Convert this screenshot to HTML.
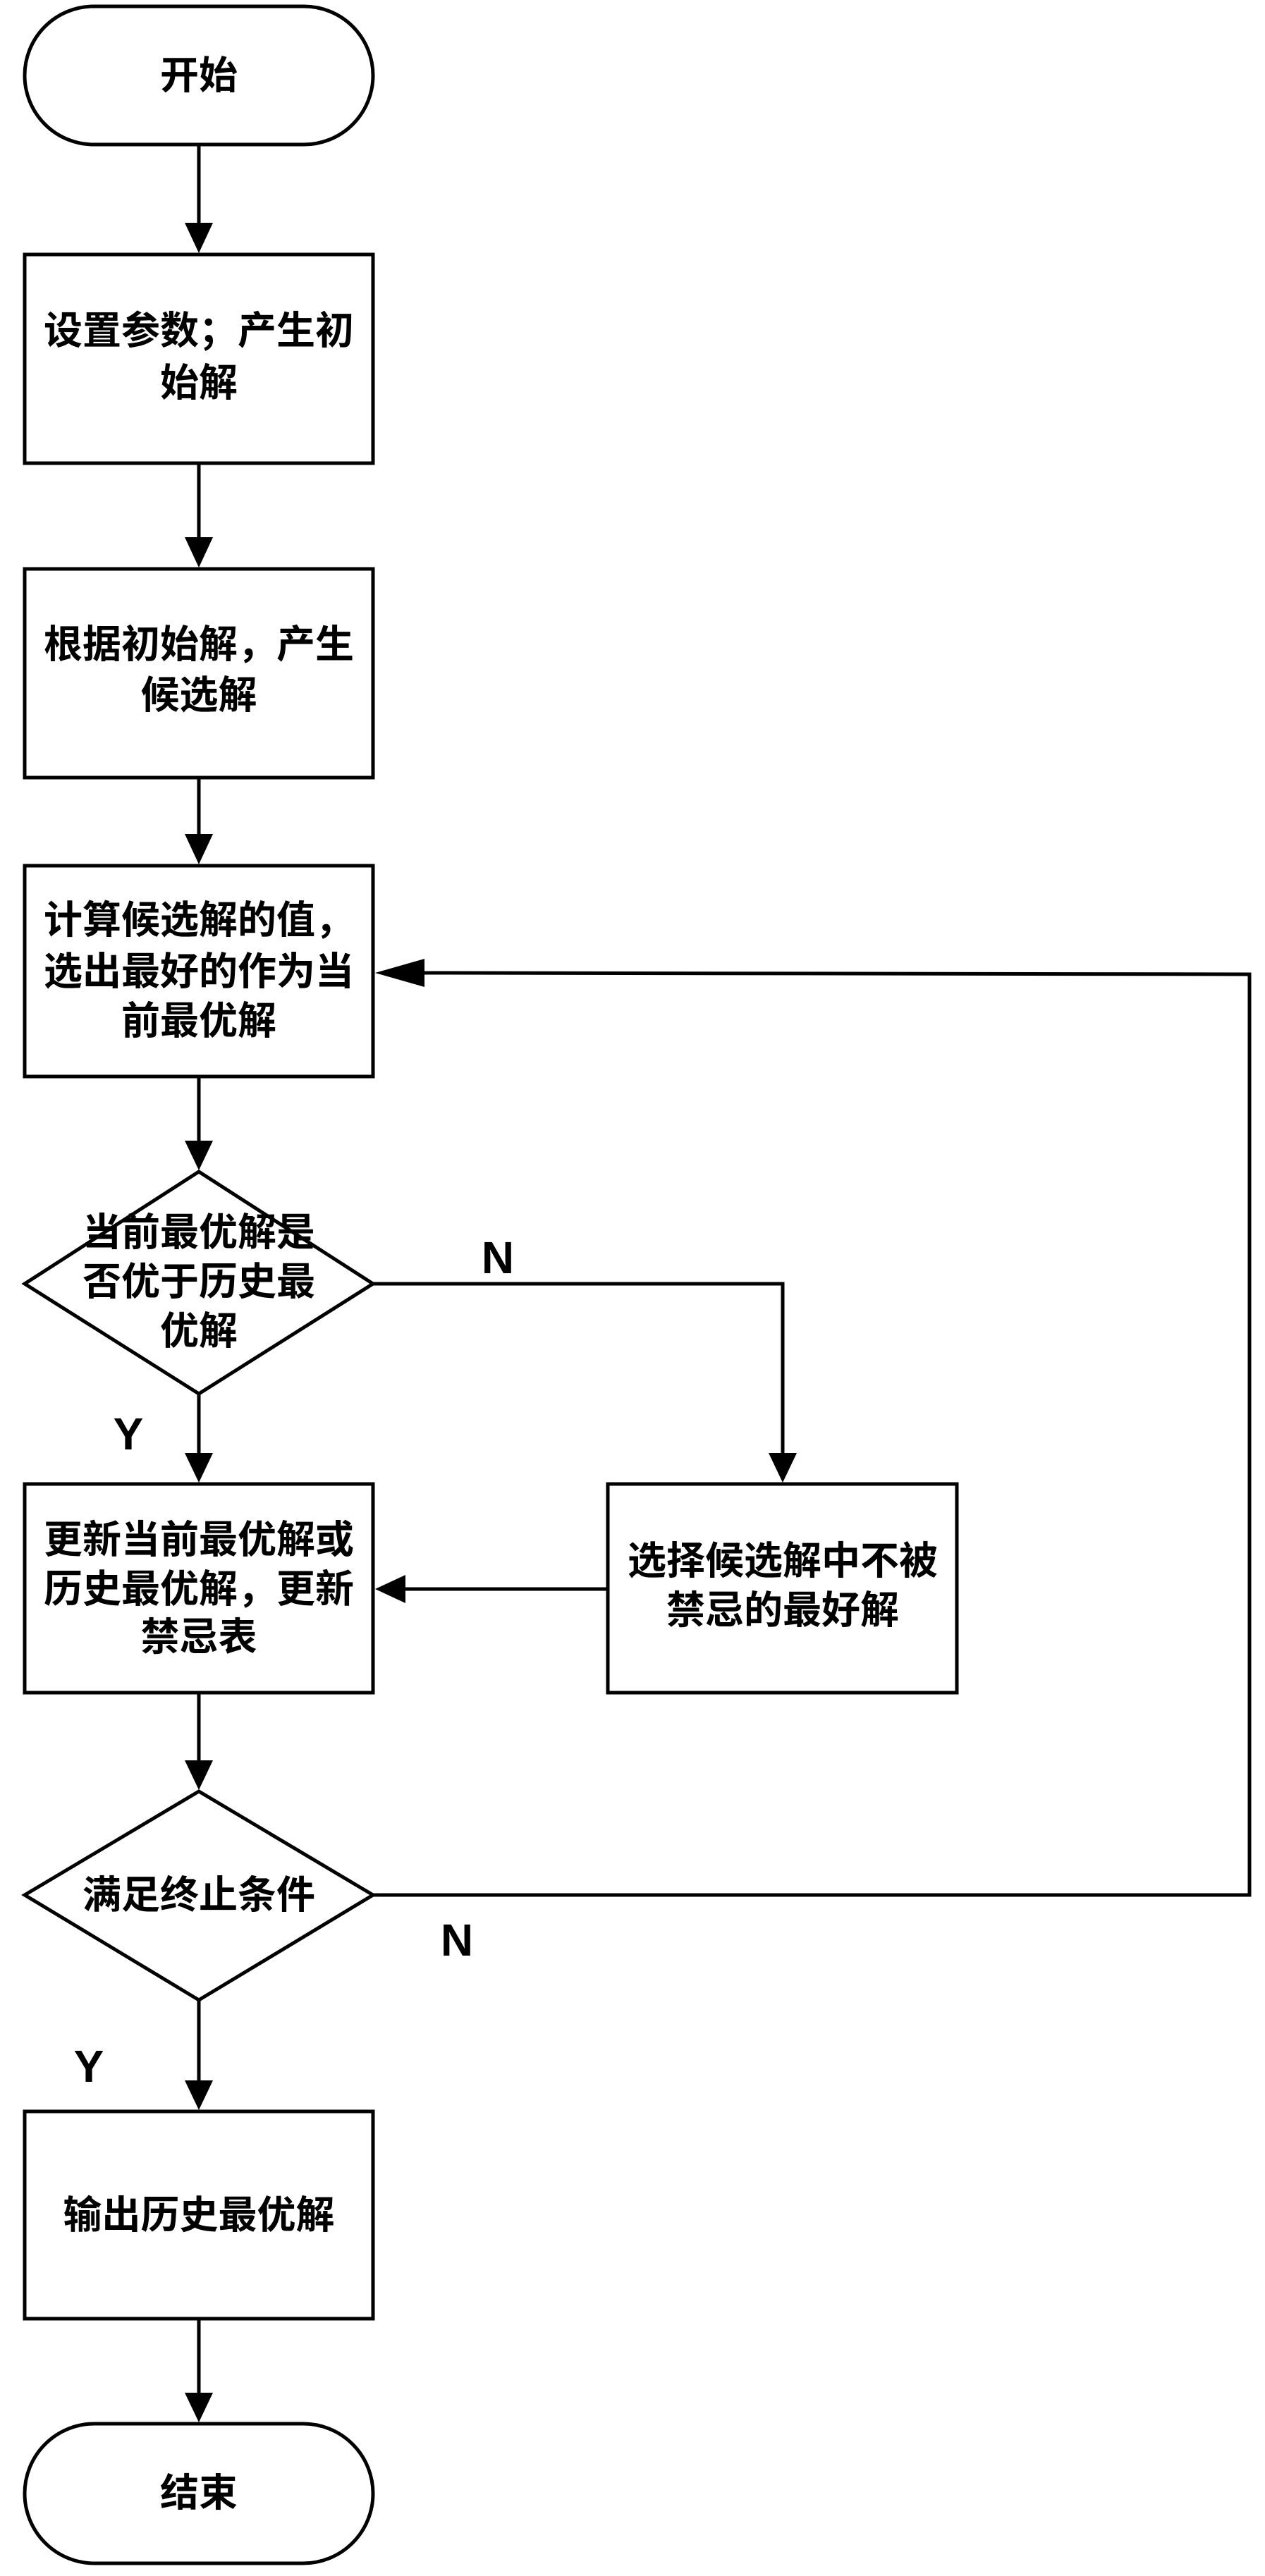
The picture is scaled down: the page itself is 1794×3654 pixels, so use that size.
<!DOCTYPE html>
<html><head><meta charset="utf-8"><style>
html,body{margin:0;padding:0;background:#fff;}
svg text{font-family:"Liberation Sans","Noto Sans CJK SC",sans-serif;font-weight:bold;fill:#000;}
</style></head><body>
<svg width="1794" height="3649" viewBox="0 0 1794 3649" xmlns="http://www.w3.org/2000/svg">
<g fill="none" stroke="#000" stroke-width="5">
<rect x="35" y="9" width="494" height="196" rx="98"/>
<rect x="35" y="361" width="494" height="296"/>
<rect x="35" y="807" width="494" height="296"/>
<rect x="35" y="1228" width="494" height="299"/>
<polygon points="282,1662 529,1821 282,1977 35,1821"/>
<rect x="35" y="2105" width="494" height="296"/>
<rect x="862" y="2105" width="495" height="296"/>
<polygon points="282,2541 529,2688 282,2837 35,2688"/>
<rect x="35" y="2995" width="494" height="294"/>
<rect x="35" y="3438" width="494" height="198" rx="99"/>
</g>
<g stroke="#000" stroke-width="5" fill="none">
<line x1="282" y1="205" x2="282" y2="316"/><path d="M262,316 L302,316 L282,359 z" fill="#000" stroke="none"/>
<line x1="282" y1="657" x2="282" y2="762"/><path d="M262,762 L302,762 L282,805 z" fill="#000" stroke="none"/>
<line x1="282" y1="1103" x2="282" y2="1183"/><path d="M262,1183 L302,1183 L282,1226 z" fill="#000" stroke="none"/>
<line x1="282" y1="1527" x2="282" y2="1618"/><path d="M262,1618 L302,1618 L282,1660 z" fill="#000" stroke="none"/>
<line x1="282" y1="1977" x2="282" y2="2061"/><path d="M262,2061 L302,2061 L282,2103 z" fill="#000" stroke="none"/>
<polyline points="529,1821 1110,1821 1110,2061"/><path d="M1090,2061 L1130,2061 L1110,2103 z" fill="#000" stroke="none"/>
<line x1="862" y1="2254" x2="575" y2="2254"/><path d="M575,2234 L575,2274 L532,2254 z" fill="#000" stroke="none"/>
<line x1="282" y1="2401" x2="282" y2="2497"/><path d="M262,2497 L302,2497 L282,2539 z" fill="#000" stroke="none"/>
<polyline points="529,2688 1772,2688 1772,1382 600,1380"/><path d="M602,1360 L602,1400 L532,1380 z" fill="#000" stroke="none"/>
<line x1="282" y1="2837" x2="282" y2="2951"/><path d="M262,2951 L302,2951 L282,2993 z" fill="#000" stroke="none"/>
<line x1="282" y1="3289" x2="282" y2="3394"/><path d="M262,3394 L302,3394 L282,3436 z" fill="#000" stroke="none"/>
</g>
<g font-size="55" text-anchor="middle">
<text x="282" y="126">开始</text>
<text x="282" y="488">设置参数；产生初</text>
<text x="282" y="562">始解</text>
<text x="282" y="933">根据初始解，产生</text>
<text x="282" y="1005">候选解</text>
<text x="282" y="1324">计算候选解的值，</text>
<text x="282" y="1397">选出最好的作为当</text>
<text x="282" y="1467">前最优解</text>
<text x="282" y="1767">当前最优解是</text>
<text x="282" y="1837">否优于历史最</text>
<text x="282" y="1907">优解</text>
<text x="282" y="2203">更新当前最优解或</text>
<text x="282" y="2273">历史最优解，更新</text>
<text x="282" y="2341">禁忌表</text>
<text x="1110" y="2233">选择候选解中不被</text>
<text x="1110" y="2303">禁忌的最好解</text>
<text x="282" y="2707">满足终止条件</text>
<text x="282" y="3161">输出历史最优解</text>
<text x="282" y="3555">结束</text>
</g>
<g font-size="64" text-anchor="middle">
<text x="706" y="1806">N</text>
<text x="182" y="2056">Y</text>
<text x="648" y="2774">N</text>
<text x="126" y="2953">Y</text>
</g>
</svg>
</body></html>
